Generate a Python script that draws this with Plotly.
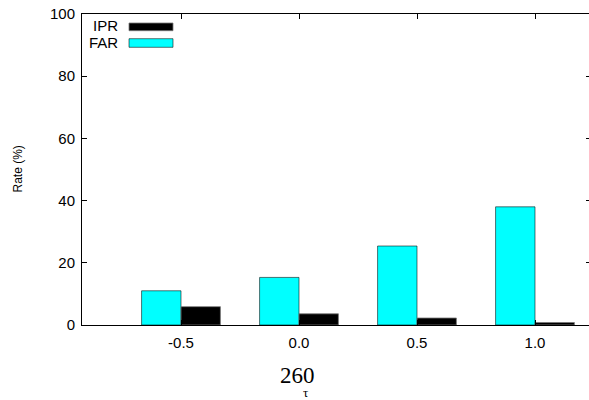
import plotly.graph_objects as go

tau = [-0.5, 0.0, 0.5, 1.0]
tick_labels = ["-0.5", "0.0", "0.5", "1.0"]
far = [11.0, 15.3, 25.4, 38.0]
ipr = [5.9, 3.6, 2.25, 0.8]

L, R, T, B = 82, 1, 14, 75
W, H = 592, 400
pw, ph = W - L - R, H - T - B

def px(x):
    return (x - L) / pw

def py(y):
    return (H - B - y) / ph

unit = 236.0  # pixels per tau unit
x0 = -0.5 - 99 / unit
x1 = x0 + pw / unit

bw = 0.167
fig = go.Figure()
fig.add_trace(go.Bar(x=tau, y=far, name="FAR", width=bw, offset=-bw,
                     marker=dict(color="#00ffff", line=dict(color="rgba(0,0,0,0.55)", width=1)),
                     showlegend=False))
fig.add_trace(go.Bar(x=tau, y=ipr, name="IPR", width=bw, offset=0,
                     marker=dict(color="#000000", line=dict(color="rgba(120,120,120,0.8)", width=1)),
                     showlegend=False))

font = "Liberation Sans, Arial, sans-serif"
fig.update_layout(
    width=W, height=H,
    margin=dict(l=L, r=R, t=T, b=B, pad=0),
    paper_bgcolor="white", plot_bgcolor="white",
    font=dict(family=font, size=15, color="black"),
    xaxis=dict(range=[x0, x1], tickvals=tau, ticktext=tick_labels,
               showline=True, linecolor="black", linewidth=1, mirror="ticks",
               ticks="inside", ticklen=5, tickcolor="black", showgrid=False, zeroline=False,
               tickfont=dict(size=15), ticklabelstandoff=4),
    yaxis=dict(range=[0, 100], tickvals=[0, 20, 40, 60, 80, 100],
               showline=True, linecolor="black", linewidth=1, mirror="ticks",
               ticks="inside", ticklen=5, tickcolor="black", showgrid=False, zeroline=False,
               tickfont=dict(size=15), ticklabelstandoff=3),
)

anns = [
    dict(text="IPR", x=px(120), y=py(26), xanchor="right", yanchor="middle"),
    dict(text="FAR", x=px(120), y=py(42), xanchor="right", yanchor="middle"),
    dict(text="Rate (%)", x=px(17), y=0.5, xanchor="center", yanchor="middle", textangle=-90,
         font=dict(size=12)),
    dict(text="260", x=px(297.5), y=py(375), xanchor="center", yanchor="middle",
         font=dict(family="Liberation Serif, Times New Roman, serif", size=23)),
    dict(text="τ", x=px(305), y=py(392), xanchor="center", yanchor="middle",
         font=dict(family="Liberation Serif, Times New Roman, serif", size=13)),
]
for a in anns:
    a.update(xref="paper", yref="paper", showarrow=False)
    fig.add_annotation(**a)

fig.add_shape(type="rect", xref="paper", yref="paper", x0=px(129), x1=px(173), y0=py(30.7), y1=py(23),
              fillcolor="black", line=dict(color="rgba(120,120,120,0.8)", width=1))
fig.add_shape(type="rect", xref="paper", yref="paper", x0=px(129), x1=px(173), y0=py(47.3), y1=py(38.7),
              fillcolor="#00ffff", line=dict(color="rgba(0,0,0,0.55)", width=1))

fig.write_html("out.html", config={"displayModeBar": False},
               post_script="document.body.style.margin='0';document.body.style.overflow='hidden';")
